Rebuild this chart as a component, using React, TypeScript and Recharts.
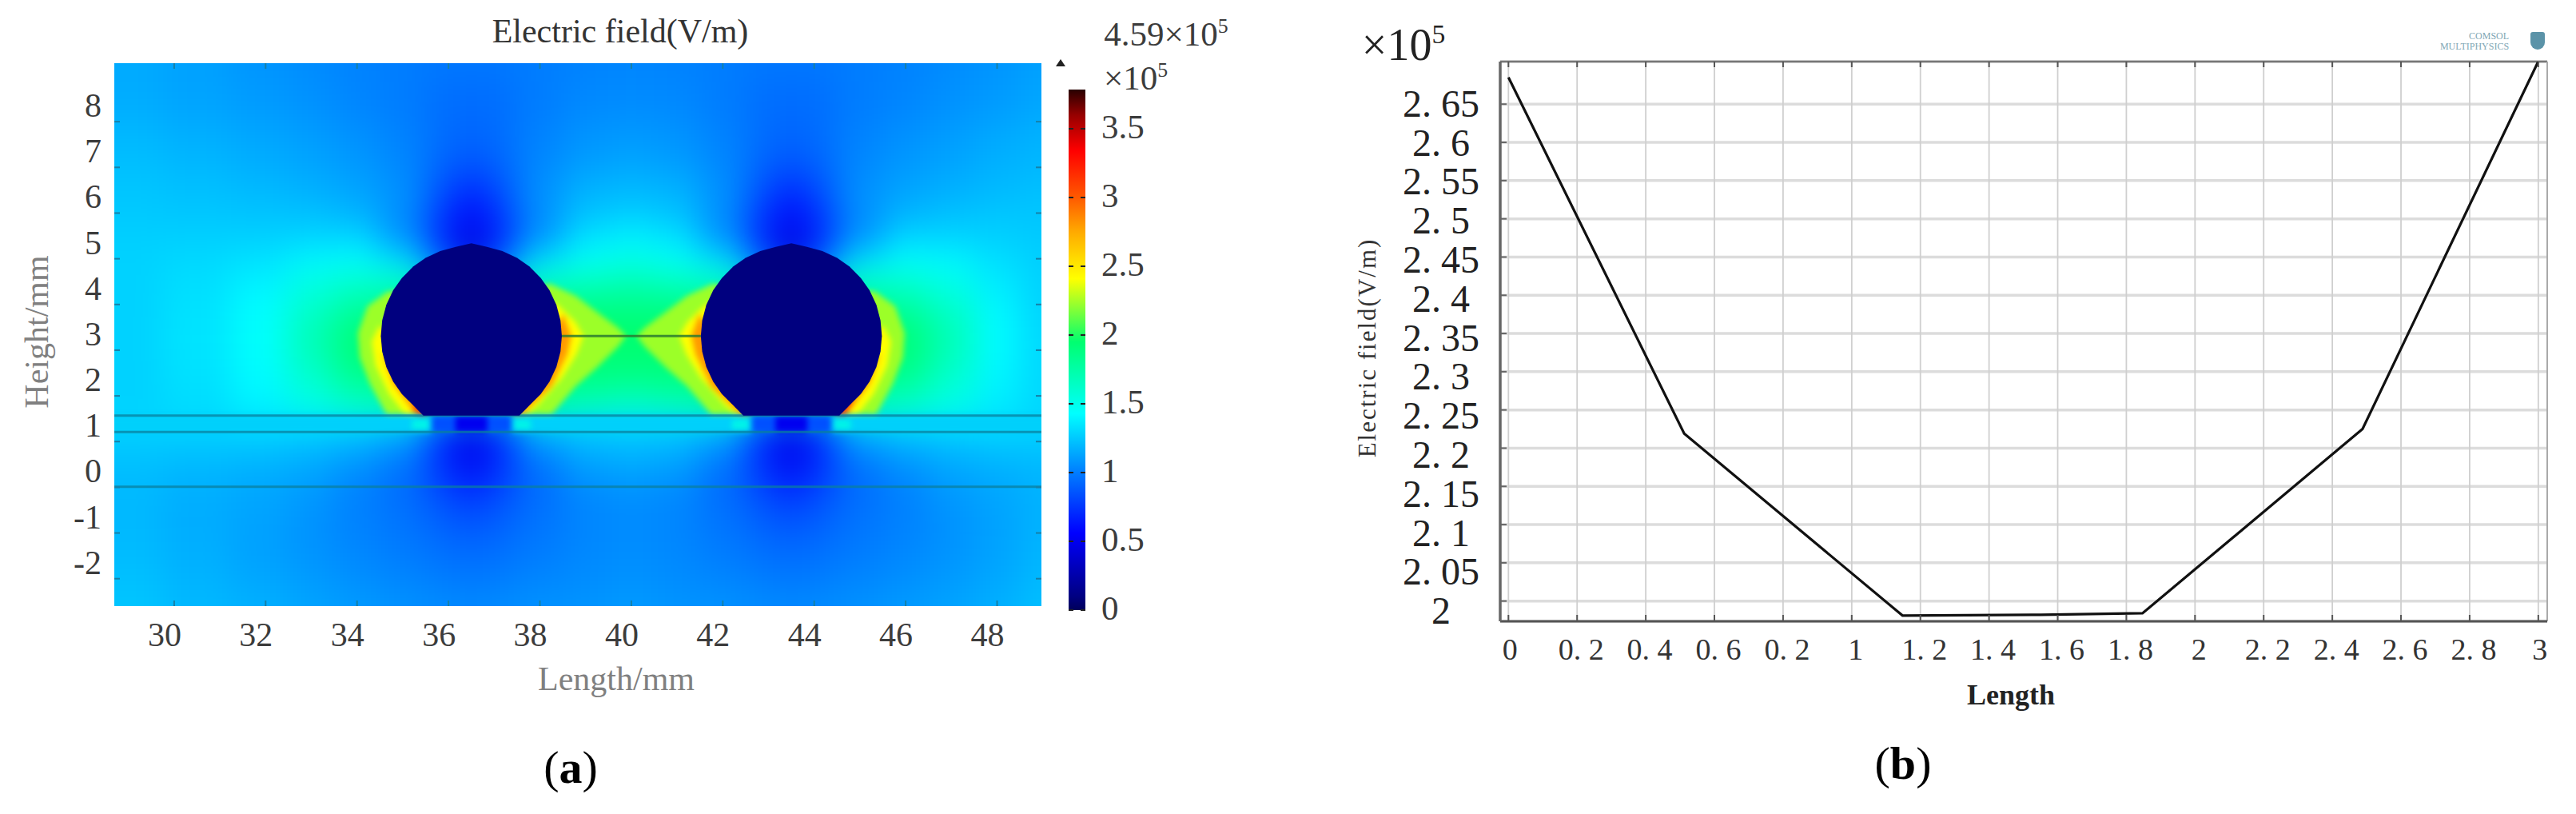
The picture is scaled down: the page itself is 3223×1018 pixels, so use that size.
import React from "react";
import {
  ScatterChart,
  Scatter,
  ComposedChart,
  Bar,
  Line,
  XAxis,
  YAxis,
  CartesianGrid,
  ReferenceLine,
} from "recharts";

// panel (a): field magnitude, in 1e5 V/m
const fieldX = [29, 30.5, 32, 33, 34, 35, 36, 36.5, 37, 38, 39, 40, 41, 42, 43, 43.5, 44, 45, 46, 47, 48, 49];
const fieldY = [9.25, 8.5, 7.5, 7, 6.5, 6, 5.5, 5, 4.5, 4, 3.5, 3, 2.5, 2, 1.7, 1.4, 1, 0.5, 0, -0.5, -1, -1.5, -2, -2.6];
const fieldValues = [
  [1.15, 1.12, 1.08, 1.05, 1.02, 1.0, 0.98, 0.98, 0.98, 1.0, 1.02, 1.03, 1.02, 1.0, 0.98, 0.98, 0.98, 1.0, 1.02, 1.05, 1.08, 1.12],
  [1.16, 1.13, 1.1, 1.07, 1.03, 1.0, 0.95, 0.94, 0.95, 1.0, 1.04, 1.05, 1.04, 1.0, 0.95, 0.94, 0.95, 1.0, 1.03, 1.07, 1.1, 1.14],
  [1.2, 1.17, 1.14, 1.11, 1.07, 1.02, 0.94, 0.9, 0.94, 1.02, 1.08, 1.1, 1.08, 1.02, 0.94, 0.9, 0.94, 1.02, 1.07, 1.11, 1.15, 1.18],
  [1.22, 1.2, 1.17, 1.14, 1.1, 1.04, 0.9, 0.82, 0.9, 1.04, 1.12, 1.15, 1.12, 1.04, 0.9, 0.82, 0.9, 1.04, 1.1, 1.14, 1.18, 1.2],
  [1.24, 1.22, 1.2, 1.17, 1.13, 1.06, 0.84, 0.68, 0.84, 1.06, 1.18, 1.2, 1.18, 1.06, 0.84, 0.68, 0.84, 1.06, 1.13, 1.17, 1.2, 1.22],
  [1.25, 1.24, 1.23, 1.22, 1.18, 1.06, 0.76, 0.55, 0.76, 1.06, 1.22, 1.26, 1.22, 1.06, 0.76, 0.55, 0.76, 1.06, 1.18, 1.22, 1.24, 1.24],
  [1.27, 1.27, 1.27, 1.28, 1.28, 1.05, 0.7, 0.45, 0.7, 1.05, 1.32, 1.38, 1.32, 1.05, 0.7, 0.45, 0.7, 1.05, 1.28, 1.28, 1.27, 1.25],
  [1.28, 1.3, 1.33, 1.4, 1.42, 1.3, 0.85, 0.4, 0.85, 1.3, 1.45, 1.5, 1.45, 1.3, 0.85, 0.4, 0.85, 1.3, 1.42, 1.4, 1.32, 1.27],
  [1.28, 1.32, 1.38, 1.52, 1.6, 1.6, 1.2, 0.8, 1.2, 1.6, 1.65, 1.7, 1.65, 1.6, 1.2, 0.8, 1.2, 1.6, 1.6, 1.5, 1.36, 1.28],
  [1.28, 1.33, 1.42, 1.6, 1.75, 1.85, 1.8, 1.7, 1.8, 1.85, 1.85, 1.85, 1.85, 1.85, 1.8, 1.7, 1.8, 1.85, 1.75, 1.6, 1.4, 1.28],
  [1.28, 1.34, 1.44, 1.68, 1.9, 1.95, 1.95, 1.95, 1.95, 2.0, 1.95, 1.95, 1.95, 2.0, 1.95, 1.95, 1.95, 1.95, 1.9, 1.68, 1.42, 1.3],
  [1.28, 1.34, 1.44, 1.68, 1.92, 1.95, 1.95, 1.95, 1.95, 2.0, 1.95, 1.95, 1.95, 2.0, 1.95, 1.95, 1.95, 1.95, 1.92, 1.68, 1.42, 1.3],
  [1.28, 1.33, 1.42, 1.62, 1.85, 1.92, 1.95, 1.95, 1.95, 1.95, 1.9, 1.88, 1.9, 1.95, 1.95, 1.95, 1.95, 1.92, 1.85, 1.62, 1.4, 1.3],
  [1.28, 1.32, 1.4, 1.55, 1.7, 1.8, 1.9, 1.9, 1.9, 1.85, 1.78, 1.74, 1.78, 1.85, 1.9, 1.9, 1.9, 1.8, 1.7, 1.55, 1.38, 1.3],
  [1.28, 1.31, 1.38, 1.5, 1.6, 1.65, 1.7, 1.7, 1.7, 1.7, 1.6, 1.55, 1.6, 1.7, 1.7, 1.7, 1.7, 1.65, 1.6, 1.5, 1.36, 1.29],
  [1.3, 1.3, 1.32, 1.33, 1.33, 1.3, 0.85, 0.6, 0.85, 1.3, 1.3, 1.3, 1.3, 1.3, 0.85, 0.6, 0.85, 1.3, 1.33, 1.33, 1.32, 1.3],
  [1.25, 1.25, 1.25, 1.22, 1.18, 1.08, 0.72, 0.45, 0.72, 1.08, 1.2, 1.22, 1.2, 1.08, 0.72, 0.45, 0.72, 1.08, 1.18, 1.22, 1.25, 1.25],
  [1.22, 1.2, 1.18, 1.15, 1.08, 0.98, 0.72, 0.5, 0.72, 0.98, 1.12, 1.15, 1.12, 0.98, 0.72, 0.5, 0.72, 0.98, 1.08, 1.15, 1.18, 1.2],
  [1.2, 1.17, 1.14, 1.1, 1.02, 0.94, 0.8, 0.68, 0.8, 0.94, 1.05, 1.08, 1.05, 0.94, 0.8, 0.68, 0.8, 0.94, 1.02, 1.1, 1.14, 1.18],
  [1.2, 1.16, 1.13, 1.08, 1.02, 0.96, 0.87, 0.8, 0.87, 0.96, 1.03, 1.05, 1.03, 0.96, 0.87, 0.8, 0.87, 0.96, 1.02, 1.08, 1.13, 1.18],
  [1.2, 1.16, 1.12, 1.07, 1.02, 0.98, 0.92, 0.88, 0.92, 0.98, 1.03, 1.05, 1.03, 0.98, 0.92, 0.88, 0.92, 0.98, 1.02, 1.07, 1.12, 1.18],
  [1.21, 1.17, 1.12, 1.08, 1.04, 1.0, 0.96, 0.94, 0.96, 1.0, 1.04, 1.06, 1.04, 1.0, 0.96, 0.94, 0.96, 1.0, 1.04, 1.08, 1.13, 1.19],
  [1.22, 1.18, 1.14, 1.1, 1.06, 1.03, 1.0, 0.98, 1.0, 1.03, 1.05, 1.07, 1.05, 1.03, 1.0, 0.98, 1.0, 1.03, 1.06, 1.1, 1.14, 1.2],
  [1.24, 1.2, 1.17, 1.13, 1.1, 1.07, 1.05, 1.04, 1.05, 1.07, 1.08, 1.1, 1.08, 1.07, 1.05, 1.04, 1.05, 1.07, 1.1, 1.13, 1.17, 1.22],
];

// value, r, g, b of the colour bar
const colourStops = [
  [0, 0, 0, 90],
  [0.1, 0, 0, 130],
  [0.56, 0, 0, 255],
  [1.0, 0, 125, 255],
  [1.43, 0, 255, 255],
  [1.95, 0, 255, 112],
  [2.41, 255, 255, 0],
  [2.75, 255, 170, 0],
  [3.0, 255, 90, 0],
  [3.34, 255, 0, 0],
  [3.6, 150, 0, 0],
  [3.785, 40, 0, 0],
];
const colourTicks = [0, 0.5, 1, 1.5, 2, 2.5, 3, 3.5];

const electrodeA = [
  [36.5, 5.34], [36.84, 5.26], [37.18, 5.17], [37.5, 5.02], [37.77, 4.83], [38.02, 4.58], [38.21, 4.31], [38.36, 3.99],
  [38.45, 3.65], [38.48, 3.31], [38.45, 2.97], [38.36, 2.63], [38.21, 2.31], [38.02, 2.04], [37.77, 1.79], [37.55, 1.57],
  [35.45, 1.57], [35.23, 1.79], [34.98, 2.04], [34.79, 2.31], [34.64, 2.63], [34.55, 2.97], [34.52, 3.31], [34.55, 3.65],
  [34.64, 3.99], [34.79, 4.31], [34.98, 4.58], [35.23, 4.83], [35.5, 5.02], [35.82, 5.17], [36.16, 5.26],
];
const electrodeB = [
  [43.5, 5.34], [43.84, 5.26], [44.18, 5.17], [44.5, 5.02], [44.77, 4.83], [45.02, 4.58], [45.21, 4.31], [45.36, 3.99],
  [45.45, 3.65], [45.48, 3.31], [45.45, 2.97], [45.36, 2.63], [45.21, 2.31], [45.02, 2.04], [44.77, 1.79], [44.55, 1.57],
  [42.45, 1.57], [42.23, 1.79], [41.98, 2.04], [41.79, 2.31], [41.64, 2.63], [41.55, 2.97], [41.52, 3.31], [41.55, 3.65],
  [41.64, 3.99], [41.79, 4.31], [41.98, 4.58], [42.23, 4.83], [42.5, 5.02], [42.82, 5.17], [43.16, 5.26],
];

// hot crescents hugging the electrodes, [x, y] in mm
const haloShapes = [
  { colour: "#9cff28", pts: [[38.22, 4.45], [38.78, 4.19], [39.24, 3.84], [39.71, 3.49], [39.88, 3.31], [39.71, 3.08], [39.24, 2.62], [38.78, 2.21], [38.26, 1.6], [37.5, 1.6], [38.2, 3.3], [38.0, 4.4]] },
  { colour: "#9cff28", pts: [[41.78, 4.45], [41.22, 4.19], [40.76, 3.84], [40.29, 3.49], [40.12, 3.31], [40.29, 3.08], [40.76, 2.62], [41.22, 2.21], [41.74, 1.6], [42.5, 1.6], [41.8, 3.3], [42.0, 4.4]] },
  { colour: "#9cff28", pts: [[34.67, 4.28], [34.23, 3.96], [34.02, 3.37], [34.06, 2.84], [34.28, 2.27], [34.64, 1.6], [35.5, 1.6], [34.8, 3.3], [35.0, 4.3]] },
  { colour: "#9cff28", pts: [[45.33, 4.28], [45.77, 3.96], [45.98, 3.37], [45.94, 2.84], [45.72, 2.27], [45.36, 1.6], [44.5, 1.6], [45.2, 3.3], [45.0, 4.3]] },
  { colour: "#ffff00", pts: [[38.37, 4.01], [38.78, 3.61], [38.95, 3.31], [38.8, 2.91], [38.48, 2.39], [37.95, 1.79], [37.73, 1.6], [37.5, 1.6], [38.2, 3.3], [38.1, 4.0]] },
  { colour: "#ffff00", pts: [[41.63, 4.01], [41.22, 3.61], [41.05, 3.31], [41.2, 2.91], [41.52, 2.39], [42.05, 1.79], [42.27, 1.6], [42.5, 1.6], [41.8, 3.3], [41.9, 4.0]] },
  { colour: "#ffff00", pts: [[34.49, 3.54], [34.32, 3.19], [34.4, 2.67], [34.7, 2.04], [35.05, 1.6], [35.5, 1.6], [34.8, 3.3]] },
  { colour: "#ffff00", pts: [[45.51, 3.54], [45.68, 3.19], [45.6, 2.67], [45.3, 2.04], [44.95, 1.6], [44.5, 1.6], [45.2, 3.3]] },
  { colour: "#ff9a00", pts: [[38.51, 3.79], [38.69, 3.31], [38.6, 2.91], [38.25, 2.21], [37.6, 1.58], [37.4, 1.58], [38.2, 3.3]] },
  { colour: "#ff9a00", pts: [[41.49, 3.79], [41.31, 3.31], [41.4, 2.91], [41.75, 2.21], [42.4, 1.58], [42.6, 1.58], [41.8, 3.3]] },
  { colour: "#ff9a00", pts: [[34.53, 2.97], [34.79, 2.27], [35.14, 1.79], [35.28, 1.6], [35.5, 1.6], [35.0, 2.3]] },
  { colour: "#ff9a00", pts: [[45.47, 2.97], [45.21, 2.27], [44.86, 1.79], [44.72, 1.6], [44.5, 1.6], [45.0, 2.3]] },
  { colour: "#ff3000", pts: [[35.2, 1.74], [35.4, 1.58], [35.55, 1.58], [35.35, 1.85]] },
  { colour: "#ff3000", pts: [[44.85, 1.9], [44.65, 1.58], [44.45, 1.58], [44.65, 1.9]] },
];
const layerBand = [[28, 1.57], [50, 1.57], [50, 1.21], [28, 1.21]];
const bandNotches = [
  { colour: "#0050ff", pts: [[35.63, 1.57], [37.38, 1.57], [37.38, 1.21], [35.63, 1.21]] },
  { colour: "#0050ff", pts: [[42.63, 1.57], [44.38, 1.57], [44.38, 1.21], [42.63, 1.21]] },
  { colour: "#0000f0", pts: [[36.15, 1.57], [36.85, 1.57], [36.85, 1.21], [36.15, 1.21]] },
  { colour: "#0000f0", pts: [[43.15, 1.57], [43.85, 1.57], [43.85, 1.21], [43.15, 1.21]] },
  { colour: "#00f4e8", pts: [[35.2, 1.48], [35.58, 1.48], [35.58, 1.26], [35.2, 1.26]] },
  { colour: "#00f4e8", pts: [[37.43, 1.48], [37.8, 1.48], [37.8, 1.26], [37.43, 1.26]] },
  { colour: "#00f4e8", pts: [[42.2, 1.48], [42.58, 1.48], [42.58, 1.26], [42.2, 1.26]] },
  { colour: "#00f4e8", pts: [[44.43, 1.48], [44.8, 1.48], [44.8, 1.26], [44.43, 1.26]] },
];
const gapWire = [[38.48, 3.31], [41.52, 3.31]];
const layerLines = [1.57, 1.21, 0.01];

const lengthTicksA = [30, 32, 34, 36, 38, 40, 42, 44, 46, 48];
const heightTicksA = [-2, -1, 0, 1, 2, 3, 4, 5, 6, 7, 8];

// panel (b)
const lengthB = [0, 0.512, 1.148, 1.55, 1.847, 2.488, 3];
const fieldB = [2.685, 2.219, 1.981, 1.982, 1.984, 2.225, 2.706];
const lengthTicksB = [0, 0.2, 0.4, 0.6, 0.8, 1, 1.2, 1.4, 1.6, 1.8, 2, 2.2, 2.4, 2.6, 2.8, 3];
const lengthLabelsB = ["0", "0. 2", "0. 4", "0. 6", "0. 2", "1", "1. 2", "1. 4", "1. 6", "1. 8", "2", "2. 2", "2. 4", "2. 6", "2. 8", "3"];
const fieldTicksB = [2, 2.05, 2.1, 2.15, 2.2, 2.25, 2.3, 2.35, 2.4, 2.45, 2.5, 2.55, 2.6, 2.65];
const fieldLabelsB = ["2", "2. 05", "2. 1", "2. 15", "2. 2", "2. 25", "2. 3", "2. 35", "2. 4", "2. 45", "2. 5", "2. 55", "2. 6", "2. 65"];

const SERIF = "'Liberation Serif', serif";

// plot box of panel (a) in page pixels
const A = { left: 143, top: 79, right: 1303, bottom: 758 };
const aW = A.right - A.left;
const aH = A.bottom - A.top;
const xDomA = [28.69, 48.97];
const yDomA = [-2.6, 9.28];
const pad = 60;
const pxX = aW / (xDomA[1] - xDomA[0]);
const pxY = aH / (yDomA[1] - yDomA[0]);
const xDomWide = [xDomA[0] - pad / pxX, xDomA[1] + pad / pxX];
const yDomWide = [yDomA[0] - pad / pxY, yDomA[1] + pad / pxY];

function colourOf(v: number) {
  for (let i = 1; i < colourStops.length; i++) {
    if (v <= colourStops[i][0]) {
      const a = colourStops[i - 1];
      const b = colourStops[i];
      const t = (v - a[0]) / (b[0] - a[0]);
      const c = [1, 2, 3].map((k) => Math.round(a[k] + (b[k] - a[k]) * t));
      return `rgb(${c[0]},${c[1]},${c[2]})`;
    }
  }
  return "rgb(40,0,0)";
}

const fieldCells = fieldY.flatMap((y, r) =>
  fieldX.map((x, c) => ({
    x,
    y,
    x0: c === 0 ? xDomWide[0] : (fieldX[c - 1] + x) / 2,
    x1: c === fieldX.length - 1 ? xDomWide[1] : (x + fieldX[c + 1]) / 2,
    y1: r === 0 ? yDomWide[1] : (fieldY[r - 1] + y) / 2,
    y0: r === fieldY.length - 1 ? yDomWide[0] : (y + fieldY[r + 1]) / 2,
    v: fieldValues[r][c],
  }))
);

function FieldCell(props: any) {
  const { cx, cy, payload: p } = props;
  return (
    <rect
      x={cx + (p.x0 - p.x) * pxX}
      y={cy - (p.y1 - p.y) * pxY}
      width={(p.x1 - p.x0) * pxX + 1}
      height={(p.y1 - p.y0) * pxY + 1}
      fill={colourOf(p.v)}
    />
  );
}

const toXY = (pts: number[][]) => [...pts, pts[0]].map(([x, y]) => ({ x, y }));
const noDot = () => <g />;

function Polygon(key: string, pts: number[][], colour: string) {
  return (
    <Scatter
      key={key}
      data={toXY(pts)}
      dataKey="y"
      line={{ stroke: "none", fill: colour }}
      lineJointType="linear"
      shape={noDot}
      isAnimationActive={false}
    />
  );
}

function PanelATicksX(props: any) {
  const { x, y, payload } = props;
  return (
    <g>
      <line x1={x} x2={x} y1={y} y2={y - 7} stroke="#1580a8" strokeWidth={2} />
      <line x1={x} x2={x} y1={A.top} y2={A.top + 7} stroke="#1580a8" strokeWidth={2} />
      <text x={x - 12} y={794} textAnchor="middle" dominantBaseline="central" fontFamily={SERIF} fontSize={42} fill="#3c3c3c">
        {payload.value}
      </text>
    </g>
  );
}

function PanelATicksY(props: any) {
  const { x, y, payload } = props;
  return (
    <g>
      <line x1={x} x2={x + 7} y1={y} y2={y} stroke="#1580a8" strokeWidth={2} />
      <line x1={A.right - 7} x2={A.right} y1={y} y2={y} stroke="#1580a8" strokeWidth={2} />
      <text x={127} y={y - 20} textAnchor="end" dominantBaseline="central" fontFamily={SERIF} fontSize={42} fill="#3c3c3c">
        {payload.value}
      </text>
    </g>
  );
}

function ColourTick(props: any) {
  const { x, y, payload } = props;
  return (
    <g>
      <line x1={x - 21} x2={x - 15} y1={y} y2={y} stroke="#222" strokeWidth={2} />
      <line x1={x - 6} x2={x} y1={y} y2={y} stroke="#222" strokeWidth={2} />
      <text x={x + 20} y={y - 3} dominantBaseline="central" fontFamily={SERIF} fontSize={43} fill="#3c3c3c">
        {payload.value}
      </text>
    </g>
  );
}

function PanelATop() {
  const wide = { width: aW + pad * 2, height: aH + pad * 2 };
  return (
    <div style={{ position: "absolute", left: A.left, top: A.top, width: aW, height: aH, overflow: "hidden", background: "#00aaff" }}>
      <div style={{ position: "absolute", left: -pad, top: -pad, filter: "blur(20px)" }}>
        <ScatterChart {...wide} margin={{ top: 0, right: 0, bottom: 0, left: 0 }}>
          <XAxis type="number" dataKey="x" domain={xDomWide} hide allowDataOverflow />
          <YAxis type="number" dataKey="y" domain={yDomWide} hide allowDataOverflow />
          <Scatter data={fieldCells} shape={FieldCell} isAnimationActive={false} />
        </ScatterChart>
      </div>
      <div style={{ position: "absolute", left: -pad, top: -pad, filter: "blur(3.5px)" }}>
        <ScatterChart {...wide} margin={{ top: 0, right: 0, bottom: 0, left: 0 }}>
          <XAxis type="number" dataKey="x" domain={xDomWide} hide allowDataOverflow />
          <YAxis type="number" dataKey="y" domain={yDomWide} hide allowDataOverflow />
          {haloShapes.map((s, i) => Polygon(`h${i}`, s.pts, s.colour))}
          {Polygon("band", layerBand, "#00d0fb")}
          {bandNotches.map((s, i) => Polygon(`n${i}`, s.pts, s.colour))}
        </ScatterChart>
      </div>
    </div>
  );
}

function PanelAOverlay() {
  return (
    <div style={{ position: "absolute", left: 0, top: 0 }}>
      <ScatterChart
        width={1320}
        height={900}
        margin={{ top: A.top, left: A.left - 1, right: 1320 - A.right, bottom: 900 - A.bottom - 1 }}
      >
        <XAxis
          type="number"
          dataKey="x"
          domain={xDomA}
          ticks={lengthTicksA}
          interval={0}
          height={1}
          tickSize={0}
          tickMargin={0}
          axisLine={false}
          tickLine={false}
          tick={PanelATicksX}
          allowDataOverflow
        />
        <YAxis
          type="number"
          dataKey="y"
          domain={yDomA}
          ticks={heightTicksA}
          interval={0}
          width={1}
          tickSize={0}
          tickMargin={0}
          axisLine={false}
          tickLine={false}
          tick={PanelATicksY}
          allowDataOverflow
        />
        {layerLines.map((v) => (
          <ReferenceLine key={v} y={v} stroke="#0a7f9c" strokeOpacity={0.75} strokeWidth={3} />
        ))}
        {Polygon("ea", electrodeA, "#00007f")}
        {Polygon("eb", electrodeB, "#00007f")}
        <Scatter
          data={gapWire.map(([x, y]) => ({ x, y }))}
          line={{ stroke: "#2a7a30", strokeOpacity: 0.85, strokeWidth: 3 }}
          lineJointType="linear"
          shape={noDot}
          isAnimationActive={false}
        />
      </ScatterChart>
    </div>
  );
}

function ColourBar() {
  const max = colourStops[colourStops.length - 1][0];
  return (
    <div style={{ position: "absolute", left: 1337, top: 0 }}>
      <ComposedChart width={130} height={800} data={[{ name: "scale", v: max }]} margin={{ top: 112, left: 0, right: 108, bottom: 37 }} barCategoryGap={0}>
        <defs>
          <linearGradient id="cbar" x1="0" y1="0" x2="0" y2="1">
            {[...colourStops].reverse().map((s) => (
              <stop key={s[0]} offset={1 - s[0] / max} stopColor={`rgb(${s[1]},${s[2]},${s[3]})`} />
            ))}
          </linearGradient>
        </defs>
        <XAxis dataKey="name" hide />
        <YAxis
          orientation="right"
          domain={[0, max]}
          ticks={colourTicks}
          interval={0}
          width={1}
          tickSize={0}
          tickMargin={0}
          axisLine={false}
          tickLine={false}
          tick={ColourTick}
          allowDataOverflow
        />
        <Bar dataKey="v" fill="url(#cbar)" isAnimationActive={false} />
      </ComposedChart>
    </div>
  );
}

// panel (b) plot box
const B = { left: 1877, top: 77, right: 3187, bottom: 777 };
const rowsB = lengthB.map((x, i) => ({ x, e: fieldB[i] }));

function PanelBTicksX(props: any) {
  const { x, y, payload, index } = props;
  return (
    <g>
      <line x1={x} x2={x} y1={y} y2={y - 8} stroke="#555" strokeWidth={2} />
      <line x1={x} x2={x} y1={B.top} y2={B.top + 7} stroke="#555" strokeWidth={2} />
      <text x={x + (payload.value > 0 && payload.value < 3 ? 5 : 2)} y={812} textAnchor="middle" dominantBaseline="central" fontFamily={SERIF} fontSize={38} fill="#333">
        {lengthLabelsB[index]}
      </text>
    </g>
  );
}

function PanelBTicksY(props: any) {
  const { x, y, payload, index } = props;
  return (
    <g>
      <line x1={x} x2={x + 8} y1={y} y2={y} stroke="#666" strokeWidth={2} />
      <text
        x={1803 - B.left + x}
        y={y + (2.65 - payload.value) * 20 - 1}
        textAnchor="middle"
        dominantBaseline="central"
        fontFamily={SERIF}
        fontSize={48}
        fill="#222"
      >
        {fieldLabelsB[index]}
      </text>
    </g>
  );
}

function PanelB() {
  const w = 3223 - 1612;
  const h = 920;
  return (
    <div style={{ position: "absolute", left: 1612, top: 0 }}>
      <ComposedChart
        width={w}
        height={h}
        data={rowsB}
        margin={{ top: B.top, left: B.left - 1612 - 1, right: 3223 - B.right, bottom: h - B.bottom - 1 }}
      >
        <CartesianGrid vertical={false} stroke="#dcdcdc" strokeWidth={3.5} />
        <CartesianGrid horizontal={false} stroke="#cfcfcf" strokeWidth={1.8} />
        <XAxis
          type="number"
          dataKey="x"
          domain={[-0.024, 3.026]}
          ticks={lengthTicksB}
          interval={0}
          height={1}
          tickSize={0}
          tickMargin={0}
          axisLine={{ stroke: "#555", strokeWidth: 3 }}
          tickLine={false}
          tick={PanelBTicksX}
          allowDataOverflow
        />
        <YAxis
          type="number"
          domain={[1.9735, 2.7057]}
          ticks={fieldTicksB}
          interval={0}
          width={1}
          tickSize={0}
          tickMargin={0}
          axisLine={{ stroke: "#666", strokeWidth: 3.5 }}
          tickLine={false}
          tick={PanelBTicksY}
          allowDataOverflow
        />
        <ReferenceLine y={2.7057} stroke="#777" strokeWidth={2.5} />
        <ReferenceLine x={3.026} stroke="#aaa" strokeWidth={2} />
        <Line dataKey="e" type="linear" stroke="#111" strokeWidth={3.2} dot={false} isAnimationActive={false} />
      </ComposedChart>
    </div>
  );
}

function Txt({ x, y, size, color, children, style }: any) {
  return (
    <div
      style={{
        position: "absolute",
        left: x,
        top: y,
        transform: "translate(-50%,-50%)",
        fontFamily: SERIF,
        fontSize: size,
        color,
        whiteSpace: "nowrap",
        lineHeight: 1,
        ...style,
      }}
    >
      {children}
    </div>
  );
}

const sup5 = <span style={{ fontSize: "0.6em", verticalAlign: "0.62em", lineHeight: 0 }}>5</span>;

export default function App() {
  return (
    <div style={{ position: "fixed", left: 0, top: 0, width: 3223, height: 1018, background: "#fff", overflow: "hidden" }}>
      <PanelATop />
      <PanelAOverlay />
      <ColourBar />
      <PanelB />

      <Txt x={776} y={39} size={42} color="#333">Electric field(V/m)</Txt>
      <Txt x={771} y={849} size={42} color="#808080">Length/mm</Txt>
      <Txt x={46} y={415} size={42} color="#808080" style={{ transform: "translate(-50%,-50%) rotate(-90deg)" }}>Height/mm</Txt>
      <div style={{ position: "absolute", left: 1321, top: 74, width: 0, height: 0, borderLeft: "6px solid transparent", borderRight: "6px solid transparent", borderBottom: "9px solid #222" }} />
      <Txt x={1459} y={42} size={43} color="#3c3c3c">4.59×10{sup5}</Txt>
      <Txt x={1421} y={97} size={43} color="#3c3c3c">×10{sup5}</Txt>
      <Txt x={714} y={960} size={58} color="#000">(<b>a</b>)</Txt>

      <Txt x={1756} y={56} size={56} color="#222">×10{sup5}</Txt>
      <Txt x={2516} y={869} size={36} color="#222" style={{ fontWeight: 700 }}>Length</Txt>
      <Txt x={1710} y={435} size={31} color="#333" style={{ transform: "translate(-50%,-50%) rotate(-90deg)", letterSpacing: 2 }}>Electric field(V/m)</Txt>
      <Txt x={2381} y={955} size={58} color="#000">(<b>b</b>)</Txt>
      <Txt x={3096} y={52} size={12} color="#7fa7b5" style={{ textAlign: "right", lineHeight: "13px" }}>
        COMSOL
        <br />
        MULTIPHYSICS
      </Txt>
      <div style={{ position: "absolute", left: 3166, top: 40, width: 18, height: 22, background: "#5b93a8", borderRadius: "3px 3px 9px 9px" }} />
    </div>
  );
}
